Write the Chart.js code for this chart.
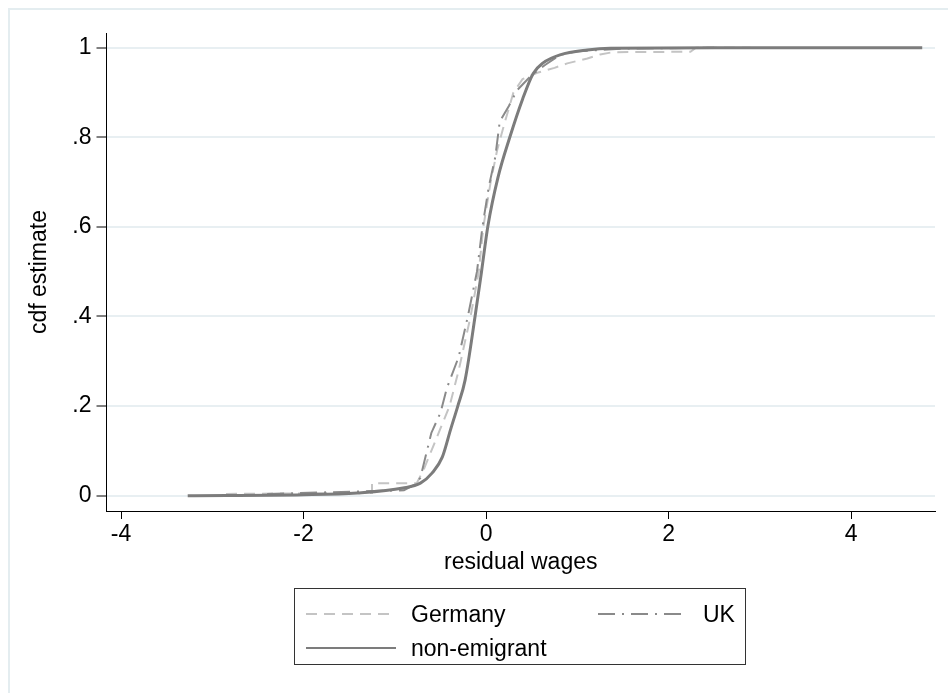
<!DOCTYPE html>
<html>
<head>
<meta charset="utf-8">
<script src="https://cdn.jsdelivr.net/npm/chart.js@4.4.1/dist/chart.umd.min.js"></script>
<style>
  html, body { margin: 0; padding: 0; background: #fff; overflow: hidden; }
  #wrap { position: relative; width: 948px; height: 693px; }
  #frame { position: absolute; left: 8px; top: 8px; width: 1000px; height: 1000px;
           border-left: 2px solid #e4edf0; border-top: 2px solid #e4edf0; }
  canvas { position: absolute; left: 0; top: 0; }
  #legend { position: absolute; left: 294px; top: 588px; width: 450px; height: 75px;
            border: 1px solid #333; font-family: 'Liberation Sans', Arial, sans-serif;
            font-size: 23px; color: #000; }
  .item { position: absolute; height: 30px; line-height: 30px; }
  .item svg { position: absolute; left: 0; top: 0; }
  .item span { position: absolute; white-space: nowrap; }
</style>
</head>
<body>
<div id="wrap">
  <div id="frame"></div>
  <canvas id="c" width="948" height="693"></canvas>
  <div id="legend"></div>
</div>
<script>
// x ticks, y ticks
const xTicks = [-4, -2, 0, 2, 4];
const yTicks = [0, 0.2, 0.4, 0.6, 0.8, 1];
const yTickLabels = ['0', '.2', '.4', '.6', '.8', '1'];

const germanyX = [-2.85, -1.25, -1.25, -0.76, -0.68, -0.6, -0.5, -0.4, -0.3, -0.17, -0.08, -0.03, 0.05, 0.12, 0.2, 0.3, 0.4, 0.56, 0.75, 0.89, 1.11, 1.25, 1.39, 2.24, 2.3, 2.9];
const germanyY = [0.004, 0.006, 0.028, 0.028, 0.06, 0.1, 0.15, 0.2, 0.28, 0.4, 0.5, 0.6, 0.7, 0.77, 0.83, 0.9, 0.93, 0.944, 0.955, 0.965, 0.976, 0.985, 0.99, 0.991, 1, 1];

// UK
const ukX = [-2.4, -0.9, -0.78, -0.72, -0.66, -0.6, -0.5, -0.43, -0.3, -0.2, -0.1, -0.04, 0.03, 0.1, 0.15, 0.25, 0.34, 0.5, 0.65, 0.81, 1.0, 1.5, 2.5];
const ukY = [0.004, 0.012, 0.025, 0.04, 0.09, 0.14, 0.185, 0.24, 0.31, 0.4, 0.5, 0.6, 0.69, 0.755, 0.835, 0.87, 0.905, 0.939, 0.962, 0.984, 0.992, 0.998, 1];

// non-emigrant
const nonEmigX = [-3.27, -2, -1.41, -0.91, -0.72, -0.59, -0.48, -0.39, -0.31, -0.23, -0.12, -0.05, 0.02, 0.13, 0.26, 0.4, 0.515, 0.625, 0.81, 1.11, 1.36, 2.5, 4.78];
const nonEmigY = [0, 0.002, 0.006, 0.017, 0.028, 0.051, 0.086, 0.147, 0.2, 0.258, 0.401, 0.5, 0.602, 0.71, 0.8, 0.885, 0.942, 0.966, 0.984, 0.995, 0.999, 1, 1];

const pts = (xs, ys) => xs.map((x, i) => ({ x: x, y: ys[i] }));
const font = { family: "'Liberation Sans', Arial, sans-serif", size: 23 };

const series = [
  { label: 'Germany', data: pts(germanyX, germanyY), color: '#c4c4c4', width: 2, dash: [11, 7], order: 2, smooth: false },
  { label: 'UK', data: pts(ukX, ukY), color: '#8a8a8a', width: 2, dash: [17, 7, 2, 7], order: 1, smooth: false },
  { label: 'non-emigrant', data: pts(nonEmigX, nonEmigY), color: '#7c7c7c', width: 3, dash: [], order: 0, smooth: true }
];

new Chart(document.getElementById('c').getContext('2d'), {
  type: 'scatter',
  data: {
    datasets: series.map(s => ({
      label: s.label,
      data: s.data,
      showLine: true,
      borderColor: s.color,
      borderWidth: s.width,
      borderDash: s.dash,
      pointRadius: 0,
      cubicInterpolationMode: s.smooth ? 'monotone' : 'default',
      tension: 0,
      order: s.order
    }))
  },
  options: {
    responsive: false,
    animation: false,
    layout: { padding: { left: 0, top: 33, right: 13, bottom: 112 } },
    plugins: { legend: { display: false }, tooltip: { enabled: false } },
    scales: {
      x: {
        type: 'linear',
        min: -4.16,
        max: 4.92,
        afterBuildTicks: s => { s.ticks = xTicks.map(v => ({ value: v })); },
        afterFit: s => { s.height = 70; },
        ticks: { color: '#000', font: font, padding: 2, maxRotation: 0 },
        grid: { drawOnChartArea: false, drawTicks: true, tickLength: 8, tickColor: '#000' },
        border: { color: '#000', width: 1 },
        title: { display: true, text: 'residual wages', color: '#000', font: font, padding: { top: 0, bottom: 5 } }
      },
      y: {
        type: 'linear',
        min: -0.0342,
        max: 1.0328,
        afterBuildTicks: s => { s.ticks = yTicks.map(v => ({ value: v })); },
        afterFit: s => { s.width = 106.5; },
        ticks: {
          color: '#000', font: font, padding: 5,
          callback: v => yTickLabels[yTicks.indexOf(v)]
        },
        grid: { color: '#e8eff2', lineWidth: 2, tickLength: 10, tickColor: '#000', tickWidth: 1 },
        border: { color: '#000', width: 1 },
        title: { display: true, text: 'cdf estimate', color: '#000', font: font, padding: { top: 26, bottom: 0 } }
      }
    }
  }
});

// legend in a box below the plot
const legendPos = [
  { left: 11, top: 10, textLeft: 116 },
  { left: 303, top: 10, textLeft: 408 },
  { left: 11, top: 44, textLeft: 116 }
];
const legendEl = document.getElementById('legend');
series.forEach((s, i) => {
  const p = legendPos[i];
  const item = document.createElement('div');
  item.className = 'item';
  item.style.left = '0px';
  item.style.top = p.top + 'px';
  item.style.width = '450px';
  const lw = s.label === 'non-emigrant' ? 2 : s.width;
  item.innerHTML =
    '<svg width="450" height="30" style="left:' + p.left + 'px"><line x1="0" y1="15" x2="90" y2="15" stroke="' + s.color +
    '" stroke-width="' + lw + '" stroke-dasharray="' + (s.dash.length ? s.dash.join(',') : 'none') + '"/></svg>' +
    '<span style="left:' + p.textLeft + 'px">' + s.label + '</span>';
  legendEl.appendChild(item);
});
</script>
</body>
</html>
